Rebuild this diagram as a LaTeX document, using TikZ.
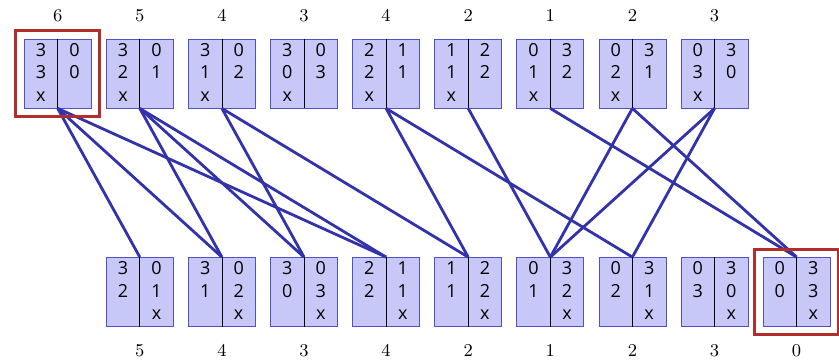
\documentclass[tikz,border=0pt]{standalone}
\usepackage{fontspec}
\setsansfont{Open Sans}
\usetikzlibrary{calc,positioning,fit}
\definecolor{StateFill}{RGB}{200,200,248}
\definecolor{StateEdge}{RGB}{80,80,200}
\definecolor{MoveBlue}{RGB}{50,50,170}
\definecolor{PickRed}{RGB}{180,45,45}

\begin{document}
\begin{tikzpicture}[x=0.5pt,y=0.5pt,
    state/.style={draw=StateEdge,fill=StateFill,minimum width=33.5pt,minimum height=34.5pt,inner sep=0pt},
    cell/.style={font=\sffamily\small,anchor=base,inner sep=0pt},
    cost/.style={font=\small,inner sep=0pt},
    move/.style={MoveBlue,line width=1.4pt},
    pick/.style={draw=PickRed,line width=1.5pt,inner sep=4pt}]
  \useasboundingbox (0,0) rectangle (839,361);
  % upper row: boat on the left bank
  \foreach \i/\a/\b/\h in {1/3/3/6,2/3/2/5,3/3/1/4,4/3/0/3,5/2/2/4,6/1/1/2,7/0/1/1,8/0/2/2,9/0/3/3}{
    \pgfmathtruncatemacro\c{3-\a}
    \pgfmathtruncatemacro\d{3-\b}
    \node[state] (t\i) at ({57.7+82.1*(\i-1)},287.5) {};
    \draw (t\i.north) -- (t\i.south);
    \node[cell] (t\i a) at ($(t\i.north)+(-16.75,-17.5)$) {\a};
    \node[cell] (t\i b) at ($(t\i.north)+(-16.75,-40)$) {\b};
    \node[cell] (t\i x) at ($(t\i.north)+(-16.75,-62.5)$) {x};
    \node[cell] (t\i c) at ($(t\i.north)+(16.75,-17.5)$) {\c};
    \node[cell] (t\i d) at ($(t\i.north)+(16.75,-40)$) {\d};
    \node[cost,above=8.5pt of t\i] (ht\i) {$\h$};
  }
  % lower row: boat on the right bank
  \foreach \i/\a/\b/\h in {2/3/2/5,3/3/1/4,4/3/0/3,5/2/2/4,6/1/1/2,7/0/1/1,8/0/2/2,9/0/3/3,10/0/0/0}{
    \pgfmathtruncatemacro\c{3-\a}
    \pgfmathtruncatemacro\d{3-\b}
    \node[state] (b\i) at ({57.7+82.1*(\i-1)},69) {};
    \draw (b\i.north) -- (b\i.south);
    \node[cell] (b\i a) at ($(b\i.north)+(-16.75,-17.5)$) {\a};
    \node[cell] (b\i b) at ($(b\i.north)+(-16.75,-40)$) {\b};
    \node[cell] (b\i c) at ($(b\i.north)+(16.75,-17.5)$) {\c};
    \node[cell] (b\i d) at ($(b\i.north)+(16.75,-40)$) {\d};
    \node[cell] (b\i x) at ($(b\i.north)+(16.75,-62.5)$) {x};
    \node[cost,below=9pt of b\i] (hb\i) {$\h$};
  }
  % crossings
  \foreach \u/\v in {1/2,1/3,1/5,2/3,2/4,2/5,3/4,3/6,5/6,5/8,6/7,7/10,8/7,8/10,9/7,9/8}
    \draw[move] (t\u.south) -- (b\v.north);
  \node[pick,fit=(t1)] (start) {};
  \node[pick,fit=(b10)] (goal) {};
\end{tikzpicture}
\end{document}
